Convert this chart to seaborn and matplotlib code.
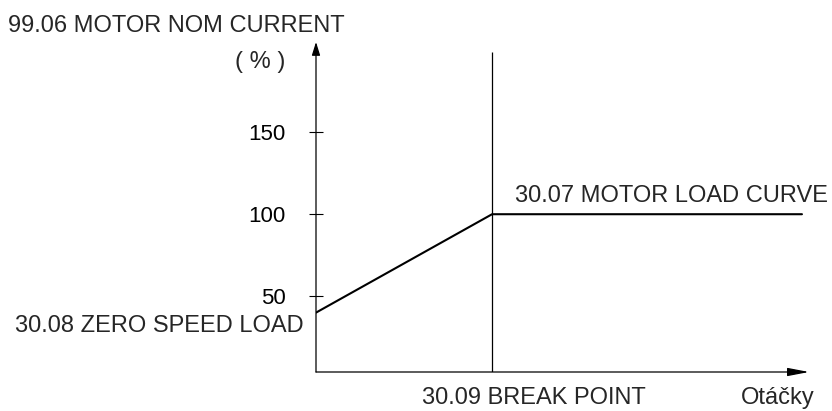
import pandas as pd
import seaborn as sns
import matplotlib.pyplot as plt

# schematic motor load curve (speed in relative units, break point = 1)
speed = [0.0, 1.0, 2.76]
load = [40, 100, 100]          # % of motor nominal current
yticks = [50, 100, 150]
break_point = 1.0
break_top = 199
x_max = 2.80
y_min, y_max = 3.8, 205.0

sns.set_style("white")
plt.rcParams["font.family"] = ["Liberation Sans", "DejaVu Sans"]

fig = plt.figure(figsize=(8.32, 4.11), dpi=100)
ax = fig.add_axes([316 / 832, 39 / 411, 493 / 832, 330 / 411])

df = pd.DataFrame({"speed": speed, "load": load})
sns.lineplot(data=df, x="speed", y="load", ax=ax, color="black", linewidth=1.5)
ax.vlines(break_point, y_min, break_top, color="black", linewidth=0.9)

ax.set_xlim(0, x_max)
ax.set_ylim(y_min, y_max)
sns.despine(ax=ax, left=True, bottom=True)
ax.set_xticks([])
ax.set_yticks(yticks)
ax.tick_params(axis="y", left=True, direction="inout", length=10.5, width=0.8,
               pad=16.5, labelsize=16, color="black", labelcolor="black")
ax.set_xlabel("")
ax.set_ylabel("")

# axes drawn as arrows
ax.annotate("", xy=(1, 0), xytext=(0, 0), xycoords="axes fraction",
            arrowprops=dict(arrowstyle="-|>,head_length=1.3,head_width=0.25",
                            mutation_scale=10, lw=0.9, color="black",
                            shrinkA=0, shrinkB=0))
ax.annotate("", xy=(0, 1), xytext=(0, 0), xycoords="axes fraction",
            arrowprops=dict(arrowstyle="-|>,head_length=0.8,head_width=0.25",
                            mutation_scale=10, lw=0.9, color="black",
                            shrinkA=0, shrinkB=0))

fs = 17
ax.annotate("99.06 MOTOR NOM CURRENT", xy=(0, 1), xycoords="axes fraction",
            xytext=(29, 10.5), textcoords="offset pixels",
            ha="right", va="baseline", fontsize=fs)
ax.annotate("( % )", xy=(0, 1), xycoords="axes fraction",
            xytext=(-31, -26), textcoords="offset pixels",
            ha="right", va="baseline", fontsize=fs)
ax.annotate("30.08 ZERO SPEED LOAD", xy=(speed[0], load[0]),
            xytext=(-12, -19), textcoords="offset pixels",
            ha="right", va="baseline", fontsize=fs, annotation_clip=False)
ax.annotate("30.07 MOTOR LOAD CURVE", xy=(speed[1], load[1]),
            xytext=(23, 12.6), textcoords="offset pixels",
            ha="left", va="baseline", fontsize=fs, annotation_clip=False)
ax.annotate("30.09 BREAK POINT", xy=(break_point, y_min),
            xytext=(-70, -32), textcoords="offset pixels",
            ha="left", va="baseline", fontsize=fs, annotation_clip=False)
ax.annotate("Otáčky", xy=(1, 0), xycoords="axes fraction",
            xytext=(6, -32), textcoords="offset pixels",
            ha="right", va="baseline", fontsize=fs)

fig.savefig("out.png", dpi=100)
